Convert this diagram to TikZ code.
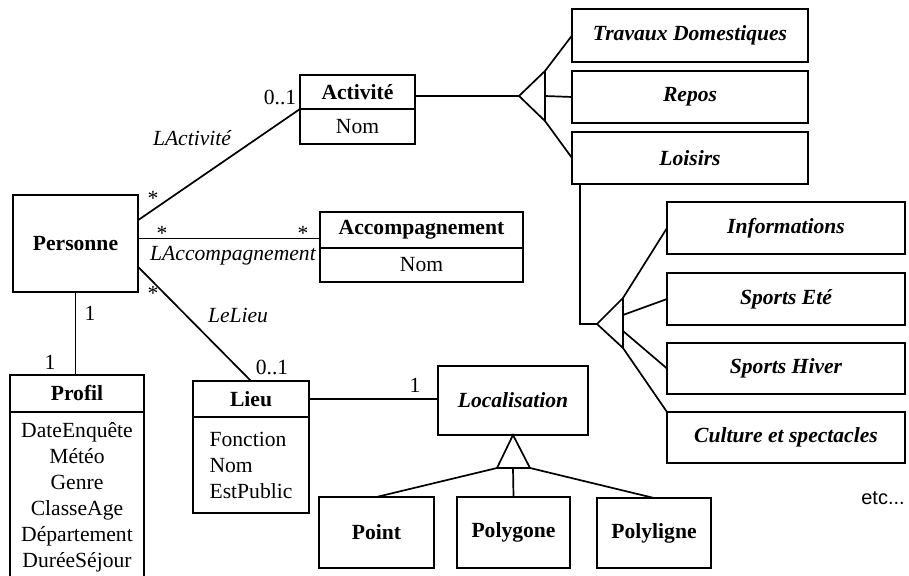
\documentclass[tikz,border=0pt]{standalone}
\usepackage{fontspec}
\setmainfont{Liberation Serif}
\newfontfamily\etcfont{Liberation Sans}
\usepackage{tikz}
\usetikzlibrary{positioning,calc}

\newcommand\umlfont{\fontsize{10.8}{13}\selectfont}

\begin{document}
\begin{tikzpicture}[x=0.5pt, y=-0.5pt, line width=0.85pt, font=\umlfont,
  hd/.style={draw, inner sep=0pt, outer sep=0pt, font=\umlfont\bfseries},
  attr/.style={draw, inner sep=0pt, outer sep=0pt, font=\umlfont},
  sub/.style={draw, inner sep=0pt, outer sep=0pt, font=\umlfont\bfseries\itshape},
  role/.style={inner sep=1pt, font=\umlfont\itshape},
  mult/.style={inner sep=1pt, font=\umlfont}]
  \useasboundingbox (0,0) rectangle (909,576);
  % classes
  \node[hd, minimum width=62.5pt, minimum height=48.5pt] (pers) at (75.5,243.5) {Personne};
  \node[hd, minimum width=57.5pt, minimum height=17pt] (act) at (357.5,92) {Activité};
  \node[attr, minimum width=57.5pt, minimum height=17.5pt, below=0pt of act] (actb) {Nom};
  \node[hd, minimum width=101.5pt, minimum height=18pt] (acc) at (421.5,230) {Accompagnement};
  \node[attr, minimum width=101.5pt, minimum height=17pt, below=0pt of acc] (accb) {Nom};
  \node[hd, minimum width=67pt, minimum height=18.5pt] (prof) at (77,393.5) {Profil};
  \node[attr, minimum width=67pt, minimum height=85pt, align=center, below=0pt of prof] (profb)
    {DateEnquête\\Météo\\Genre\\ClasseAge\\Département\\DuréeSéjour};
  \node[hd, minimum width=58pt, minimum height=18pt] (lieu) at (251,399) {Lieu};
  \node[attr, minimum width=58pt, minimum height=48pt, align=left, below=0pt of lieu] (lieub)
    {Fonction\\Nom\\EstPublic};
  \node[sub, minimum width=75pt, minimum height=34.5pt] (loc) at (513,400.5) {Localisation};
  \node[hd, minimum width=57.5pt, minimum height=35.5pt] (pt) at (376.5,532.5) {Point};
  \node[hd, minimum width=56.5pt, minimum height=35.5pt] (pgon) at (513.5,532.5) {Polygone};
  \node[hd, minimum width=57pt, minimum height=35pt] (pligne) at (654,533) {Polyligne};
  % activity subclasses
  \node[sub, minimum width=118pt, minimum height=26.5pt] (trav) at (690,35.5) {Travaux Domestiques};
  \node[sub, minimum width=118pt, minimum height=26pt] (rep) at (690,97) {Repos};
  \node[sub, minimum width=118pt, minimum height=26pt] (lois) at (690,158) {Loisirs};
  \node[sub, minimum width=119pt, minimum height=26pt] (info) at (786,228) {Informations};
  \node[sub, minimum width=119pt, minimum height=26pt] (ete) at (786,299) {Sports Eté};
  \node[sub, minimum width=119pt, minimum height=25.5pt] (hiver) at (786,368.5) {Sports Hiver};
  \node[sub, minimum width=119pt, minimum height=25.5pt] (cult) at (786,437.5) {Culture et spectacles};
  % generalisations
  \coordinate (g1) at (519,96);
  \coordinate (g1t) at (545,71);
  \coordinate (g1m) at (545,96);
  \coordinate (g1b) at (545,121);
  \draw (act.east |- g1) -- (g1);
  \draw (g1) -- (g1t) -- (g1b) -- cycle;
  \draw (g1t) -- (trav.west);
  \draw (g1m) -- (rep.west);
  \draw (g1b) -- (lois.west);
  \coordinate (g2) at (597,324);
  \coordinate (g2t) at (623,298);
  \coordinate (g2u) at (623,315);
  \coordinate (g2l) at (623,331);
  \coordinate (g2b) at (623,348);
  \draw ([xshift=4pt]lois.south west) |- (g2);
  \draw (g2) -- (g2t) -- (g2b) -- cycle;
  \draw (g2t) -- (info.west);
  \draw (g2u) -- (ete.west);
  \draw (g2l) -- (hiver.west);
  \draw (g2b) -- (cult.north west);
  \coordinate (g3l) at (497,468);
  \coordinate (g3m) at (513,468);
  \coordinate (g3r) at (530,468);
  \draw (loc.south) -- (g3l) -- (g3r) -- cycle;
  \draw (g3l) -- (pt.north);
  \draw (g3m) -- (pgon.north);
  \draw (g3r) -- (pligne.north);
  % associations
  \coordinate (pa) at ($(pers.north east)!0.26!(pers.south east)$);
  \coordinate (pc) at ($(pers.north east)!0.45!(pers.south east)$);
  \coordinate (pl) at ($(pers.north east)!0.74!(pers.south east)$);
  \draw (pa) -- (act.south west);
  \draw (pc) -- (pc -| acc.west);
  \draw (pl) -- (lieu.north);
  \draw (pers.south) -- (pers.south |- prof.north);
  \draw (lieu.east) -- (lieu.east -| loc.west);
  % labels
  \node[mult] (m1) at (280,97) {0..1};
  \node[role] (r1) at (192,138) {LActivité};
  \node[mult] (m2) at (153,198) {*};
  \node[mult] (m3) at (162,233) {*};
  \node[mult] (m4) at (303,233) {*};
  \node[role] (r2) at (233,256) {LAccompagnement};
  \node[mult] (m5) at (153,293) {*};
  \node[role] (r3) at (238,315) {LeLieu};
  \node[mult] (m6) at (272,367) {0..1};
  \node[mult] (m7) at (90,313) {1};
  \node[mult] (m8) at (50,362) {1};
  \node[mult] (m9) at (415,385) {1};
  \node[font=\etcfont\fontsize{10}{12}\selectfont] (etc) at (883,498) {etc...};
\end{tikzpicture}
\end{document}
